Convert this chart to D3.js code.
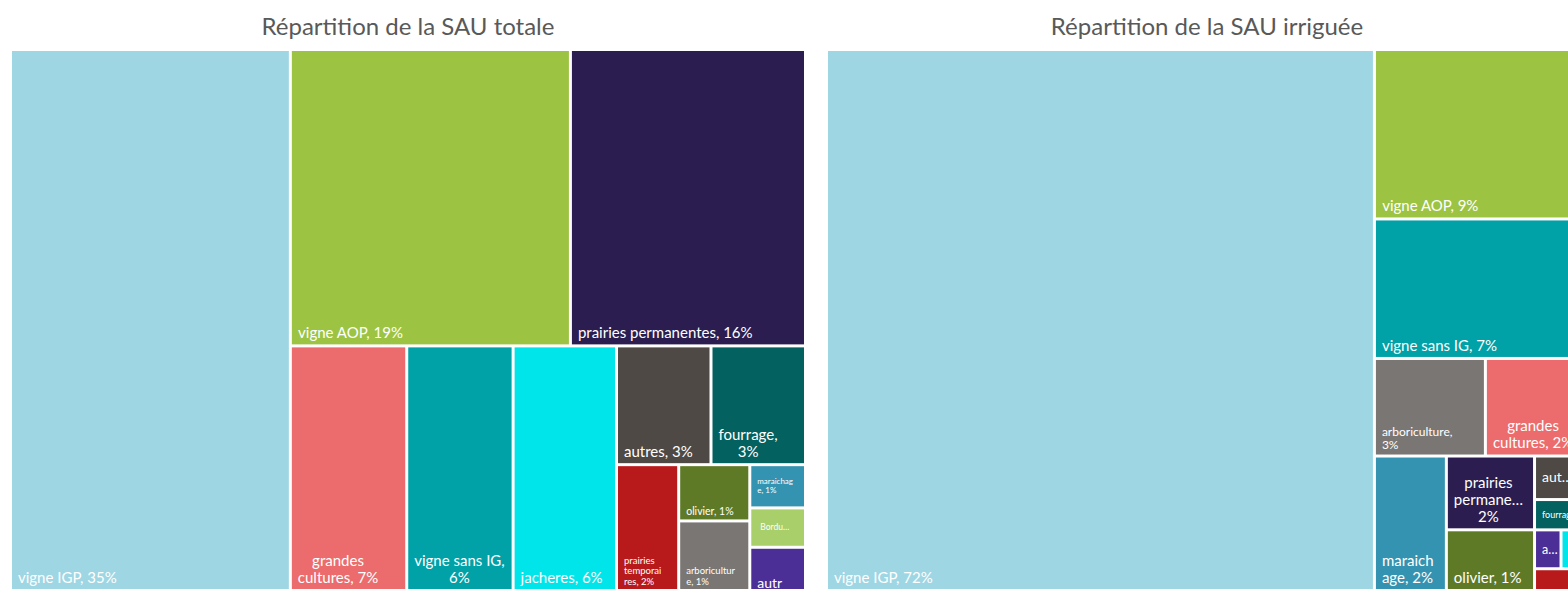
<!DOCTYPE html>
<html>
<head>
<meta charset="utf-8">
<script src="https://cdn.jsdelivr.net/npm/d3@7"></script>
<style>
  body { margin: 0; background: #ffffff; }
  svg { display: block; }
</style>
</head>
<body>
<svg id="chart" width="1568" height="590"></svg>
<script>
// Share of the agricultural area (%) by crop, in drawing order
const categoriesTotale = ["vigne IGP", "vigne AOP", "prairies permanentes", "grandes cultures", "vigne sans IG",
  "jacheres", "autres", "fourrage", "prairies temporaires", "olivier", "arboriculture", "maraichage",
  "Bordures", "autres vignes"];
const valuesTotale = [35.2, 19.3, 16.2, 6.62, 6.05, 5.88, 2.61, 2.61, 1.82, 0.93, 1.15, 0.56, 0.51, 0.56];

const categoriesIrriguee = ["vigne IGP", "vigne AOP", "vigne sans IG", "arboriculture", "grandes cultures",
  "maraichage", "prairies permanentes", "olivier", "autres", "fourrage", "autres vignes", "jacheres",
  "prairies temporaires"];
const valuesIrriguee = [72.0, 8.77, 7.22, 2.63, 2.42, 2.35, 1.58, 1.30, 0.56, 0.39, 0.25, 0.25, 0.28];

const titles = ["Répartition de la SAU totale", "Répartition de la SAU irriguée"];

// Fill colour of each crop, shared by both treemaps
const cropColor = d3.scaleOrdinal()
  .domain(["vigne IGP", "vigne AOP", "prairies permanentes", "grandes cultures", "vigne sans IG", "jacheres",
    "autres", "fourrage", "prairies temporaires", "olivier", "arboriculture", "maraichage", "Bordures", "autres vignes"])
  .range(["#9ed6e3", "#9cc442", "#2b1d50", "#ec6b6c", "#00a1a7", "#00e5e9",
    "#4e4944", "#03615f", "#b8191a", "#5f7a27", "#7a7673", "#3493b0", "#a8cf6a", "#4b2f96"]);

// Label typography per tile (size in px, line alignment, mid-word breaking)
const labelStyle = {
  "totale|prairies temporaires": { size: 9.5, align: "start", breakWords: true, wrapPad: 7 },
  "totale|olivier": { size: 10.5 },
  "totale|arboriculture": { size: 9.5, align: "start", breakWords: true, wrapPad: 5 },
  "totale|maraichage": { size: 8, align: "start", breakWords: true, valign: "middle", wrapPad: 1 },
  "totale|Bordures": { size: 8.5, valign: "middle", maxLines: 1, wrapPad: 10, padX: 9 },
  "totale|autres vignes": { size: 14, breakWords: true, valign: "top", dy: 24, wrapPad: 13 },
  "irriguee|arboriculture": { size: 12, align: "start", wrapPad: 12 },
  "irriguee|maraichage": { size: 15, align: "start", breakWords: true, wrapPad: 4 },
  "irriguee|prairies permanentes": { size: 15, wrapPad: 2 },
  "irriguee|olivier": { size: 15 },
  "irriguee|fourrage": { size: 9, valign: "middle", maxLines: 1 },
  "irriguee|autres": { size: 14, valign: "middle", maxLines: 1, wrapPad: 4 },
  "irriguee|autres vignes": { size: 12.5, valign: "middle", maxLines: 1 },
  "irriguee|jacheres": { size: 12.5, valign: "middle", maxLines: 1 }
};

const FONT = "Lato, 'Open Sans', sans-serif";
const svg = d3.select("#chart");

// Squarified tiling with a configurable target aspect (rows along the shorter side)
function squarifyTile(ratio) {
  return function (parent, x0, y0, x1, y1) {
    const nodes = parent.children, n = nodes.length;
    let value = parent.value, i0 = 0, i1 = 0;
    while (i0 < n) {
      const dx = x1 - x0, dy = y1 - y0;
      let sumValue = nodes[i1++].value;
      let minV = sumValue, maxV = sumValue;
      const alpha = Math.max(dy / dx, dx / dy) / (value * ratio);
      let beta = sumValue * sumValue * alpha;
      let minRatio = Math.max(maxV / beta, beta / minV);
      for (; i1 < n; ++i1) {
        const v = nodes[i1].value;
        sumValue += v;
        const mn = Math.min(minV, v), mx = Math.max(maxV, v);
        beta = sumValue * sumValue * alpha;
        const r = Math.max(mx / beta, beta / mn);
        if (r > minRatio) { sumValue -= v; break; }
        minV = mn; maxV = mx; minRatio = r;
      }
      const row = { value: sumValue, children: nodes.slice(i0, i1) };
      if (dx < dy) d3.treemapDice(row, x0, y0, x1, y0 += dy * sumValue / value);
      else d3.treemapSlice(row, x0, y0, x0 += dx * sumValue / value, y1);
      value -= sumValue;
      i0 = i1;
    }
  };
}

// Text measurement
const ctx = document.createElement("canvas").getContext("2d");
function textWidth(s, size) {
  ctx.font = `${size}px ${FONT}`;
  return ctx.measureText(s).width;
}
function ellipsize(s, size, maxW) {
  if (textWidth(s, size) <= maxW) return s;
  let t = s;
  while (t.length > 1 && textWidth(t.replace(/[\s,]+$/, "") + "…", size) > maxW) t = t.slice(0, -1);
  return t.replace(/[\s,]+$/, "") + "…";
}
// Wrap a label into lines that fit the tile
function wrapLabel(text, size, maxW, maxLines, breakWords) {
  const words = text.split(" ");
  const lines = [];
  let cur = "";
  for (const w of words) {
    const trial = cur ? cur + " " + w : w;
    if (textWidth(trial, size) <= maxW) { cur = trial; continue; }
    if (cur) { lines.push(cur); cur = ""; }
    if (textWidth(w, size) <= maxW) { cur = w; continue; }
    if (breakWords) {
      let rest = w;
      while (textWidth(rest, size) > maxW) {
        let k = 1;
        while (k < rest.length && textWidth(rest.slice(0, k + 1), size) <= maxW) k++;
        lines.push(rest.slice(0, k));
        rest = rest.slice(k);
      }
      cur = rest;
    } else {
      lines.push(ellipsize(w, size, maxW));
    }
  }
  if (cur) lines.push(cur);
  if (lines.length > maxLines) {
    const kept = lines.slice(0, maxLines);
    const last = kept.length - 1;
    if (!kept[last].endsWith("…")) kept[last] = ellipsize(kept[last] + " …", size, maxW);
    if (!kept[last].endsWith("…")) kept[last] = kept[last].replace(/[\s,]+$/, "") + "…";
    kept[last] = kept[last].replace(/[\s,]*…+$/, "…");
    return kept;
  }
  return lines;
}

function drawTreemap(key, categories, values, title, x, y, w, h) {
  const data = categories.map((c, i) => ({ name: c, value: values[i] }));
  const root = d3.hierarchy({ children: data }).sum(d => d.value);
  d3.treemap().tile(squarifyTile(0.78)).size([w, h]).paddingInner(3)(root);
  const total = d3.sum(values);

  svg.append("text")
    .attr("x", x + w / 2).attr("y", 35)
    .attr("text-anchor", "middle")
    .attr("font-family", FONT).attr("font-size", 24)
    .attr("fill", "#595959")
    .text(title);

  const g = svg.append("g").attr("transform", `translate(${x},${y})`);
  const cell = g.selectAll("g.cell").data(root.leaves()).join("g").attr("class", "cell");

  cell.append("clipPath")
    .attr("id", (d, i) => `clip-${key}-${i}`)
    .append("rect")
    .attr("x", d => d.x0).attr("y", d => d.y0)
    .attr("width", d => d.x1 - d.x0).attr("height", d => d.y1 - d.y0);

  cell.append("rect")
    .attr("x", d => d.x0).attr("y", d => d.y0)
    .attr("width", d => d.x1 - d.x0).attr("height", d => d.y1 - d.y0)
    .attr("fill", d => cropColor(d.data.name));

  cell.each(function (d, i) {
    const st = Object.assign({ size: 15, align: "middle", breakWords: false, valign: "bottom", wrapPad: 0, dy: 0, padX: 6 },
      labelStyle[`${key}|${d.data.name}`] || {});
    const cw = d.x1 - d.x0, ch = d.y1 - d.y0;
    if (ch < st.size * 1.3) return;
    const pad = st.padX;
    const lh = st.size * 1.12;
    const label = `${d.data.name}, ${Math.round(d.data.value / total * 100)}%`;
    const fitLines = Math.max(1, Math.floor((ch - 4) / lh));
    const maxLines = Math.min(fitLines, st.maxLines || 99);
    const lines = wrapLabel(label, st.size, cw - 12 - st.wrapPad, maxLines, st.breakWords);
    const blockW = d3.max(lines, l => textWidth(l, st.size));
    let baseline;
    const n = lines.length;
    if (st.valign === "middle") baseline = d.y0 + ch / 2 - (n * lh) / 2 + lh * 0.8 + (n - 1) * lh;
    else if (st.valign === "top") baseline = d.y0 + st.dy + lh * 0.95 + (n - 1) * lh;
    else baseline = d.y1 - st.size * 0.42;
    const t = d3.select(this).append("text")
      .attr("clip-path", `url(#clip-${key}-${i})`)
      .attr("font-family", FONT).attr("font-size", st.size)
      .attr("fill", "#ffffff")
      .attr("text-anchor", st.align);
    const ax = st.align === "middle" ? d.x0 + pad + blockW / 2 : d.x0 + pad;
    lines.forEach((l, k) => {
      t.append("tspan").attr("x", ax).attr("y", baseline - (n - 1 - k) * lh).text(l);
    });
  });
}

drawTreemap("totale", categoriesTotale, valuesTotale, titles[0], 12, 51, 792, 538);
drawTreemap("irriguee", categoriesIrriguee, valuesIrriguee, titles[1], 828, 51, 758, 538);
</script>
</body>
</html>
